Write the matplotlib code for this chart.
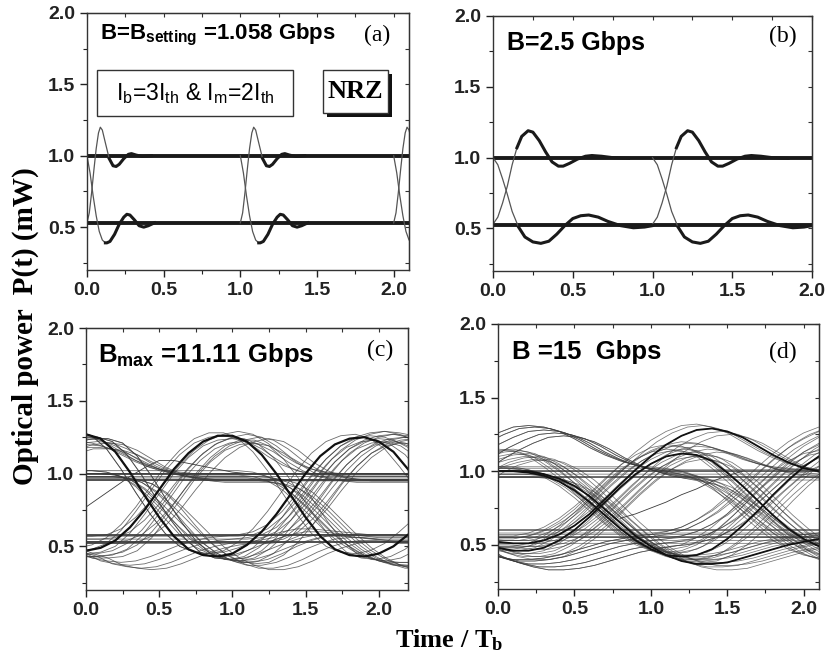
import numpy as np
import matplotlib
matplotlib.use('Agg')
import matplotlib.pyplot as plt
from matplotlib.patches import Rectangle
from matplotlib.ticker import MultipleLocator

plt.rcParams['mathtext.default'] = 'regular'
SANS = 'Liberation Sans'
SERIF = 'Liberation Serif'

# ---------------- panel (a): B = 1.058 Gbps ----------------
a_levels = [0.995, 0.53]
a_edges = [0.0, 1.0, 2.0]
a_rise_dt = [0, 0.015, 0.03, 0.045, 0.06, 0.075, 0.087, 0.10, 0.12, 0.145, 0.17, 0.19,
             0.21, 0.24, 0.27, 0.29, 0.32, 0.36, 0.42]
a_rise_p = [0.53, 0.60, 0.74, 0.90, 1.05, 1.16, 1.20, 1.18, 1.09, 0.98, 0.93, 0.925,
            0.94, 0.98, 1.01, 1.015, 1.005, 0.995, 1.0]
a_fall_dt = [0, 0.02, 0.04, 0.06, 0.08, 0.10, 0.12, 0.13, 0.15, 0.18, 0.21, 0.24,
             0.26, 0.28, 0.31, 0.34, 0.37, 0.40, 0.44]
a_fall_p = [1.0, 0.88, 0.72, 0.58, 0.47, 0.41, 0.39, 0.39, 0.40, 0.45, 0.52, 0.57,
            0.59, 0.585, 0.55, 0.51, 0.50, 0.51, 0.53]

# ---------------- panel (b): B = 2.5 Gbps ----------------
b_levels = [0.995, 0.525]
b_edges = [0.0, 1.0]
b_rise_dt = [0, 0.03, 0.06, 0.09, 0.12, 0.15, 0.18, 0.22, 0.25, 0.29, 0.33, 0.37,
             0.41, 0.44, 0.48, 0.53, 0.58, 0.62, 0.68, 0.75, 0.85]
b_rise_p = [0.53, 0.58, 0.68, 0.80, 0.95, 1.07, 1.15, 1.19, 1.18, 1.12, 1.04, 0.97,
            0.94, 0.94, 0.96, 0.99, 1.01, 1.015, 1.01, 1.0, 0.995]
b_fall_dt = [0, 0.03, 0.06, 0.09, 0.12, 0.16, 0.20, 0.25, 0.30, 0.35, 0.40, 0.45,
             0.50, 0.55, 0.60, 0.66, 0.72, 0.80, 0.88, 0.95, 1.0]
b_fall_p = [1.0, 0.95, 0.85, 0.74, 0.62, 0.51, 0.44, 0.405, 0.395, 0.41, 0.46, 0.52,
            0.57, 0.59, 0.595, 0.58, 0.55, 0.52, 0.505, 0.51, 0.52]

# ---------------- panel (c): Bmax = 11.11 Gbps ----------------
c_t = np.linspace(-0.2, 2.4, 27)
c_traces = {
    'A': [0.46, 0.46, 0.47, 0.49, 0.54, 0.63, 0.75, 0.89, 1.03, 1.14, 1.22, 1.26, 1.26, 1.22,
          1.13, 1.00, 0.85, 0.70, 0.57, 0.48, 0.44, 0.43, 0.45, 0.50, 0.58, 0.67, 0.78],
    'B': [1.25, 1.27, 1.27, 1.24, 1.15, 1.01, 0.85, 0.70, 0.57, 0.48, 0.44, 0.43, 0.45, 0.51,
          0.60, 0.72, 0.86, 1.00, 1.12, 1.20, 1.24, 1.25, 1.22, 1.15, 1.03, 0.90, 0.77],
    'C': [0.55, 0.55, 0.55, 0.55, 0.56, 0.60, 0.68, 0.79, 0.92, 1.04, 1.14, 1.21, 1.25, 1.27,
          1.25, 1.19, 1.11, 1.05, 1.01, 0.99, 0.98, 0.98, 0.98, 0.98, 0.98, 0.98, 0.98],
    'D': [1.00, 1.00, 1.00, 1.00, 0.99, 0.96, 0.90, 0.81, 0.71, 0.61, 0.52, 0.45, 0.40, 0.37,
          0.37, 0.39, 0.43, 0.48, 0.52, 0.55, 0.56, 0.56, 0.55, 0.55, 0.55, 0.55, 0.55],
    'E': [1.20, 1.23, 1.24, 1.23, 1.19, 1.13, 1.07, 1.03, 1.00, 0.98, 0.97, 0.97, 0.97, 0.97,
          0.96, 0.93, 0.87, 0.78, 0.68, 0.58, 0.50, 0.44, 0.40, 0.38, 0.37, 0.37, 0.38],
    'F': [1.17, 1.20, 1.20, 1.19, 1.16, 1.11, 1.06, 1.02, 1.00, 0.99, 0.98, 0.98, 0.98, 0.98,
          0.98, 0.98, 0.98, 0.98, 0.98, 0.98, 0.98, 0.98, 0.98, 0.98, 0.98, 0.98, 0.98],
    'G': [1.25, 1.27, 1.27, 1.24, 1.15, 1.01, 0.85, 0.70, 0.57, 0.48, 0.44, 0.43, 0.44, 0.47,
          0.51, 0.55, 0.58, 0.60, 0.60, 0.59, 0.58, 0.57, 0.56, 0.56, 0.56, 0.55, 0.55],
    'H': [0.52, 0.48, 0.45, 0.40, 0.38, 0.37, 0.38, 0.41, 0.45, 0.49, 0.52, 0.54, 0.55, 0.56,
          0.58, 0.63, 0.72, 0.84, 0.97, 1.08, 1.17, 1.23, 1.26, 1.27, 1.26, 1.24, 1.21],
    'I': [1.00, 1.00, 1.00, 1.00, 0.99, 0.96, 0.89, 0.79, 0.67, 0.56, 0.48, 0.43, 0.41, 0.42,
          0.47, 0.56, 0.68, 0.82, 0.96, 1.08, 1.17, 1.22, 1.24, 1.23, 1.19, 1.14, 1.08],
    'J': [0.47, 0.45, 0.45, 0.46, 0.50, 0.59, 0.72, 0.86, 1.00, 1.11, 1.19, 1.23, 1.24, 1.22,
          1.17, 1.10, 1.04, 1.00, 0.98, 0.97, 0.97, 0.97, 0.97, 0.97, 0.97, 0.97, 0.97],
    'K': [0.55, 0.55, 0.55, 0.55, 0.55, 0.55, 0.55, 0.55, 0.55, 0.55, 0.55, 0.55, 0.55, 0.55,
          0.56, 0.60, 0.68, 0.79, 0.92, 1.04, 1.14, 1.21, 1.25, 1.27, 1.25, 1.21, 1.16],
    'L': [1.00, 1.00, 1.00, 1.00, 1.00, 1.00, 1.00, 1.00, 1.00, 1.00, 1.00, 1.00, 1.00, 1.00,
          0.99, 0.96, 0.90, 0.81, 0.71, 0.61, 0.52, 0.45, 0.40, 0.37, 0.37, 0.37, 0.39],
}
c_shifts = [(0.0, 0.0), (0.08, -0.02), (-0.06, 0.02), (0.15, -0.03)]
c_flat = [1.0, 0.955, 0.53, 0.58]
c_stray_t = [0.0, 0.1, 0.2, 0.3, 0.4, 0.5, 0.6, 0.7, 0.8, 0.9, 1.0, 1.1]
c_stray_p = [0.77, 0.84, 0.91, 0.98, 1.04, 1.09, 1.09, 1.07, 1.05, 1.03, 1.01, 1.00]

# ---------------- panel (d): B = 15 Gbps ----------------
d_t = np.linspace(-0.2, 2.3, 26)
d_traces = {
    'd1': [0.56, 0.51, 0.48, 0.46, 0.46, 0.48, 0.53, 0.60, 0.69, 0.79, 0.89, 0.98, 1.05, 1.10,
           1.12, 1.11, 1.07, 0.99, 0.90, 0.80, 0.70, 0.61, 0.54, 0.49, 0.46, 0.46],
    'd2': [1.02, 1.07, 1.10, 1.12, 1.11, 1.07, 1.00, 0.92, 0.82, 0.72, 0.62, 0.54, 0.48, 0.45,
           0.45, 0.47, 0.52, 0.59, 0.68, 0.78, 0.88, 0.97, 1.04, 1.09, 1.11, 1.11],
    'd3': [0.53, 0.52, 0.52, 0.51, 0.51, 0.53, 0.57, 0.63, 0.71, 0.81, 0.91, 1.01, 1.10, 1.18,
           1.24, 1.28, 1.29, 1.27, 1.23, 1.17, 1.11, 1.06, 1.02, 1.00, 0.98, 0.97],
    'd4': [1.00, 1.00, 1.00, 1.00, 1.00, 0.98, 0.95, 0.90, 0.83, 0.74, 0.65, 0.56, 0.49, 0.43,
           0.39, 0.37, 0.37, 0.38, 0.41, 0.44, 0.47, 0.50, 0.52, 0.54, 0.55, 0.55],
    'd5': [1.05, 1.12, 1.18, 1.23, 1.27, 1.28, 1.27, 1.24, 1.19, 1.13, 1.08, 1.04, 1.01, 0.99,
           0.98, 0.98, 0.98, 0.98, 0.98, 0.98, 0.98, 0.98, 0.98, 0.98, 0.98, 0.98],
    'd6': [1.05, 1.12, 1.18, 1.23, 1.27, 1.28, 1.27, 1.24, 1.19, 1.13, 1.08, 1.04, 1.01, 0.99,
           0.97, 0.95, 0.91, 0.85, 0.78, 0.70, 0.62, 0.55, 0.49, 0.44, 0.40, 0.38],
    'd7': [0.52, 0.46, 0.42, 0.39, 0.37, 0.37, 0.38, 0.40, 0.43, 0.46, 0.49, 0.51, 0.53, 0.54,
           0.55, 0.55, 0.55, 0.55, 0.55, 0.55, 0.55, 0.55, 0.55, 0.55, 0.55, 0.55],
    'd8': [0.52, 0.46, 0.42, 0.39, 0.37, 0.37, 0.38, 0.40, 0.43, 0.46, 0.49, 0.51, 0.53, 0.54,
           0.56, 0.59, 0.64, 0.70, 0.78, 0.87, 0.96, 1.05, 1.13, 1.19, 1.24, 1.28],
    'd9': [1.00, 1.00, 1.00, 1.00, 0.99, 0.97, 0.93, 0.87, 0.79, 0.70, 0.61, 0.53, 0.47, 0.43,
           0.42, 0.43, 0.47, 0.54, 0.63, 0.73, 0.84, 0.94, 1.03, 1.10, 1.15, 1.18],
    'd10': [0.53, 0.53, 0.53, 0.53, 0.53, 0.55, 0.59, 0.65, 0.73, 0.82, 0.92, 1.01, 1.08, 1.13,
            1.15, 1.14, 1.10, 1.03, 0.94, 0.84, 0.74, 0.65, 0.57, 0.51, 0.47, 0.45],
    'd11': [0.55, 0.55, 0.55, 0.55, 0.55, 0.55, 0.55, 0.55, 0.55, 0.55, 0.55, 0.55, 0.55, 0.55,
            0.56, 0.59, 0.64, 0.71, 0.80, 0.90, 1.00, 1.09, 1.17, 1.23, 1.27, 1.29],
    'd12': [1.00, 1.00, 1.00, 1.00, 1.00, 1.00, 1.00, 1.00, 1.00, 1.00, 1.00, 1.00, 1.00, 1.00,
            0.99, 0.97, 0.93, 0.86, 0.77, 0.67, 0.58, 0.50, 0.44, 0.40, 0.38, 0.37],
    'd13': [0.95, 1.03, 1.08, 1.11, 1.12, 1.10, 1.05, 0.98, 0.89, 0.79, 0.69, 0.60, 0.52, 0.46,
            0.42, 0.40, 0.40, 0.41, 0.43, 0.46, 0.49, 0.51, 0.53, 0.54, 0.55, 0.55],
    'd14': [0.55, 0.50, 0.46, 0.44, 0.44, 0.46, 0.51, 0.58, 0.67, 0.78, 0.88, 0.97, 1.05, 1.11,
            1.15, 1.17, 1.16, 1.13, 1.09, 1.05, 1.02, 1.00, 0.99, 0.98, 0.98, 0.98],
}
d_shifts = [(0.0, 0.0), (0.07, -0.02), (-0.06, 0.02), (0.13, -0.04), (-0.1, 0.03)]
d_flat = [1.0, 0.96, 0.55, 0.60]
d_stray_t = [0.8, 0.9, 1.0, 1.1, 1.2, 1.3, 1.4, 1.5, 1.6]
d_stray_p = [0.68, 0.71, 0.75, 0.79, 0.84, 0.88, 0.93, 0.97, 1.0]

TRACE = '#3a3a3a'


def style(ax, xmax):
    ax.set_xlim(0, xmax)
    ax.set_ylim(0.2, 2.0)
    for axis in (ax.xaxis, ax.yaxis):
        axis.set_major_locator(MultipleLocator(0.5))
        axis.set_minor_locator(MultipleLocator(0.25))
    ax.tick_params(which='major', direction='out', length=5, width=1, labelsize=14,
                   colors='#222222')
    ax.tick_params(which='minor', direction='out', length=3, width=0.8, colors='#222222')
    for lab in ax.get_xticklabels() + ax.get_yticklabels():
        lab.set_fontfamily(SANS)
        lab.set_fontweight('bold')
    for sp in ax.spines.values():
        sp.set_linewidth(1.0)
        sp.set_color('#333333')
    top = ax.secondary_xaxis('top')
    top.xaxis.set_major_locator(MultipleLocator(0.5))
    top.xaxis.set_minor_locator(MultipleLocator(0.25))
    top.tick_params(which='both', direction='in', length=3, width=0.8, labeltop=False,
                    colors='#333333')
    right = ax.secondary_yaxis('right')
    right.yaxis.set_major_locator(MultipleLocator(0.5))
    right.yaxis.set_minor_locator(MultipleLocator(0.25))
    right.tick_params(which='both', direction='in', length=3, width=0.8, labelright=False,
                      colors='#333333')


def ringing(ax, edges, dts, ps, thick_from):
    dts = np.asarray(dts)
    ps = np.asarray(ps)
    k = np.searchsorted(dts, thick_from)
    for t0 in edges:
        ax.plot(t0 + dts, ps, color='#555555', lw=0.9)
        ax.plot(t0 + dts[k:], ps[k:], color='#1a1a1a', lw=2.2)


fig = plt.figure(figsize=(8.3, 6.55), dpi=100)
ax_a = fig.add_axes([0.1048, 0.5878, 0.3880, 0.3924])
ax_b = fig.add_axes([0.5940, 0.5863, 0.3843, 0.3893])
ax_c = fig.add_axes([0.1036, 0.0992, 0.3880, 0.4000])
ax_d = fig.add_axes([0.6000, 0.1008, 0.3867, 0.4046])

# (a)
for lv in a_levels:
    ax_a.axhline(lv, color='#1a1a1a', lw=2.8)
ringing(ax_a, a_edges, a_rise_dt, a_rise_p, 0.13)
ringing(ax_a, a_edges, a_fall_dt, a_fall_p, 0.12)
style(ax_a, 2.1)
ax_a.text(0.04, 0.914, 'B=B$_{setting}$ =1.058 Gbps', transform=ax_a.transAxes,
          fontfamily=SANS, fontweight='bold', fontsize=16, va='center', ha='left')
ax_a.text(0.90, 0.914, '(a)', transform=ax_a.transAxes, fontfamily=SERIF,
          fontsize=17, va='center', ha='center')
ax_a.add_patch(Rectangle((0.031, 0.599), 0.609, 0.179, transform=ax_a.transAxes,
                         facecolor='white', edgecolor='#333333', lw=1.0, zorder=5))
ax_a.text(0.335, 0.688, 'I$_b$=3I$_{th}$ & I$_m$=2I$_{th}$', transform=ax_a.transAxes,
          fontfamily=SANS, fontsize=16.5, va='center', ha='center', zorder=6)
ax_a.add_patch(Rectangle((0.745, 0.595), 0.202, 0.167, transform=ax_a.transAxes,
                         facecolor='#111111', edgecolor='none', zorder=5))
ax_a.add_patch(Rectangle((0.733, 0.611), 0.202, 0.167, transform=ax_a.transAxes,
                         facecolor='white', edgecolor='#333333', lw=1.0, zorder=6))
ax_a.text(0.834, 0.694, 'NRZ', transform=ax_a.transAxes, fontfamily=SERIF,
          fontweight='bold', fontsize=19, va='center', ha='center', zorder=7)

# (b)
for lv in b_levels:
    ax_b.axhline(lv, color='#1a1a1a', lw=2.8)
ringing(ax_b, b_edges, b_rise_dt, b_rise_p, 0.15)
ringing(ax_b, b_edges, b_fall_dt, b_fall_p, 0.16)
style(ax_b, 2.0)
ax_b.text(0.044, 0.894, 'B=2.5 Gbps', transform=ax_b.transAxes, fontfamily=SANS,
          fontweight='bold', fontsize=18, va='center', ha='left')
ax_b.text(0.909, 0.918, '(b)', transform=ax_b.transAxes, fontfamily=SERIF,
          fontsize=17, va='center', ha='center')

# (c)
for lv in c_flat:
    ax_c.axhline(lv, color='#222222', lw=1.4, alpha=0.8)
for name, vals in c_traces.items():
    for dt, dp in c_shifts:
        ax_c.plot(c_t + dt, np.asarray(vals) + dp, color=TRACE, lw=0.6, alpha=0.75)
for name in ['A', 'B']:
    ax_c.plot(c_t, c_traces[name], color='#111111', lw=1.6)
ax_c.plot(c_stray_t, c_stray_p, color=TRACE, lw=0.6)
style(ax_c, 2.2)
ax_c.text(0.037, 0.897, 'B$_{max}$ =11.11 Gbps', transform=ax_c.transAxes, fontfamily=SANS,
          fontweight='bold', fontsize=18.5, va='center', ha='left')
ax_c.text(0.913, 0.916, '(c)', transform=ax_c.transAxes, fontfamily=SERIF,
          fontsize=17, va='center', ha='center')

# (d)
for lv in d_flat:
    ax_d.axhline(lv, color='#222222', lw=1.1, alpha=0.75)
for name, vals in d_traces.items():
    for dt, dp in d_shifts:
        ax_d.plot(d_t + dt, np.asarray(vals) + dp, color=TRACE, lw=0.55, alpha=0.7)
for name in ['d4', 'd9', 'd1', 'd3']:
    ax_d.plot(d_t, d_traces[name], color='#111111', lw=1.3)
ax_d.plot(d_stray_t, d_stray_p, color=TRACE, lw=0.6)
style(ax_d, 2.1)
ax_d.text(0.044, 0.894, 'B =15  Gbps', transform=ax_d.transAxes, fontfamily=SANS,
          fontweight='bold', fontsize=18.5, va='center', ha='left')
ax_d.text(0.888, 0.894, '(d)', transform=ax_d.transAxes, fontfamily=SERIF,
          fontsize=17, va='center', ha='center')

fig.text(0.030, 0.502, 'Optical power  P(t) (mW)', rotation=90, fontfamily=SERIF,
         fontweight='bold', fontsize=21, va='center', ha='center')
fig.text(0.541, 0.022, 'Time / T$_b$', fontfamily=SERIF, fontweight='bold', fontsize=19,
         va='center', ha='center')

fig.savefig('out.png', dpi=100)
